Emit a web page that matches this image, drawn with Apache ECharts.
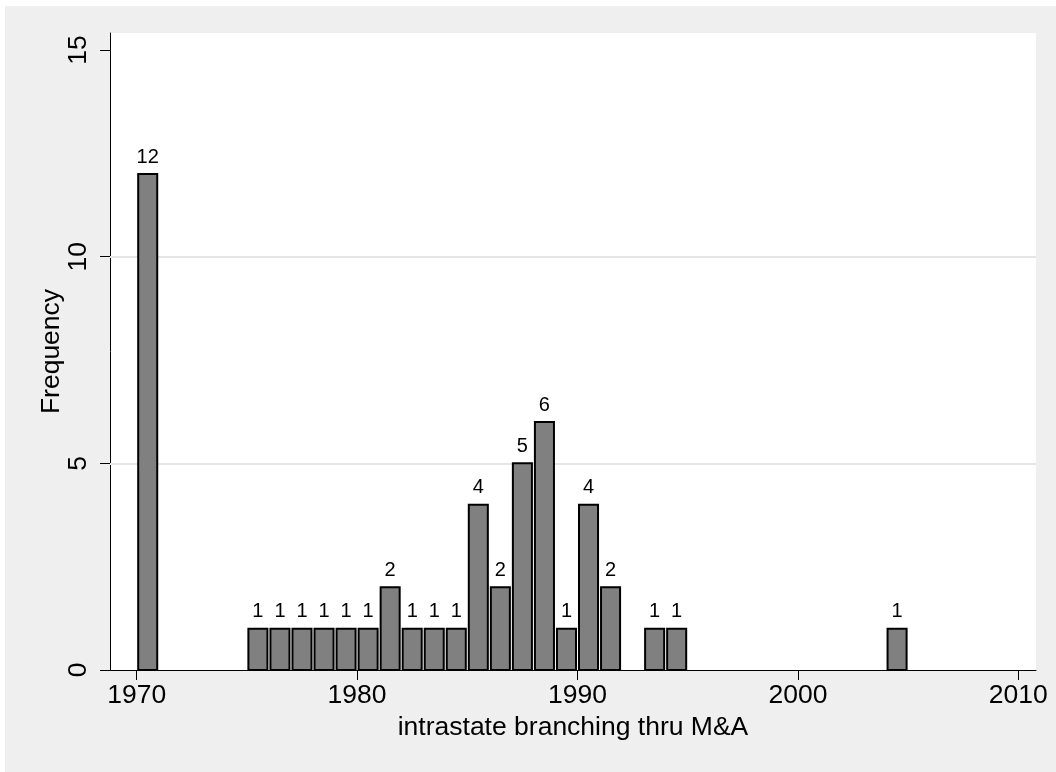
<!DOCTYPE html>
<html>
<head>
<meta charset="utf-8">
<title>intrastate branching thru M&amp;A</title>
<script src="https://cdn.jsdelivr.net/npm/echarts@6/dist/echarts.min.js"></script>
<style>
    html, body { margin: 0; padding: 0; background: #fff; }
    #main { position: absolute; left: 5px; top: 6px; width: 1051px; height: 766px; }
</style>
</head>
<body>
<div id="main"></div>
<script>
// histogram bins (left edge of each 1-year bin) and counts
var binStarts = [1970, 1975, 1976, 1977, 1978, 1979, 1980, 1981, 1982, 1983, 1984,
                 1985, 1986, 1987, 1988, 1989, 1990, 1991, 1993, 1994, 2004];
var counts = [12, 1, 1, 1, 1, 1, 1, 2, 1, 1, 1,
              4, 2, 5, 6, 1, 4, 2, 1, 1, 1];
var binWidth = 1;
var xTicks = [1970, 1980, 1990, 2000, 2010];
var yTicks = [0, 5, 10, 15];
var yGridLines = [5, 10];

var fontName = 'Liberation Sans, Arial, Helvetica, sans-serif';
var axisFont = 26.5;

var dom = document.getElementById("main");
var myChart = echarts.init(dom);

/**
 * draw one histogram bar from [start, 0] to [start + binWidth, count], with its count above
 */
function renderBar(params, api) {
    var start = api.value(0);
    var v = api.value(1);
    var p0 = api.coord([start, 0]);
    var p1 = api.coord([start + binWidth, v]);
    return {
        type: 'group',
        children: [
            {
                type: 'rect',
                shape: {
                    x: p0[0] + 1.5,
                    y: p1[1],
                    width: p1[0] - p0[0] - 3,
                    height: p0[1] - p1[1]
                },
                style: {
                    fill: '#808080',
                    stroke: '#000',
                    lineWidth: 2
                }
            },
            {
                type: 'text',
                x: (p0[0] + p1[0]) / 2,
                y: p1[1] - 7,
                style: {
                    text: String(v),
                    fontSize: 20,
                    fontFamily: fontName,
                    fill: '#000',
                    align: 'center',
                    verticalAlign: 'bottom'
                }
            }
        ]
    };
}

var barData = [];
binStarts.forEach(function (s, i) {
    barData.push([s, counts[i]]);
});

function plainNumber(v) {
    return String(v);
}

var option = {
    backgroundColor: '#efefef',
    animation: false,
    grid: {
        left: 105,
        right: 20,
        top: 27,
        bottom: 102,
        show: true,
        backgroundColor: '#fff',
        borderWidth: 0
    },
    xAxis: {
        type: 'value',
        min: 1968.789,
        max: 2010.803,
        name: 'intrastate branching thru M&A',
        nameLocation: 'middle',
        nameGap: 39,
        nameTextStyle: { fontSize: axisFont, fontFamily: fontName, color: '#000' },
        axisLine: { show: true, onZero: false, lineStyle: { color: '#000', width: 1 } },
        axisTick: { show: true, length: 10, lineStyle: { color: '#000' }, customValues: xTicks },
        axisLabel: { fontSize: axisFont, fontFamily: fontName, color: '#000', margin: 12, customValues: xTicks, formatter: plainNumber },
        splitLine: { show: false }
    },
    yAxis: {
        type: 'value',
        min: 0,
        max: 15.411,
        name: 'Frequency',
        nameLocation: 'middle',
        nameGap: 45,
        nameMoveOverlap: false,
        nameTextStyle: { fontSize: axisFont, fontFamily: fontName, color: '#000' },
        axisLine: { show: true, lineStyle: { color: '#000', width: 1 } },
        axisTick: { show: true, length: 10, lineStyle: { color: '#000' }, customValues: yTicks },
        axisLabel: { fontSize: axisFont, fontFamily: fontName, color: '#000', rotate: 90, margin: 18, customValues: yTicks, formatter: plainNumber },
        splitLine: { show: false }
    },
    series: [
        {
            // light horizontal grid lines
            type: 'line',
            z: 1,
            data: [],
            markLine: {
                silent: true,
                symbol: 'none',
                label: { show: false },
                lineStyle: { color: '#e6e6e6', width: 2, type: 'solid' },
                data: yGridLines.map(function (v) { return { yAxis: v }; })
            }
        },
        {
            type: 'custom',
            z: 5,
            renderItem: renderBar,
            encode: { x: 0, y: 1 },
            data: barData
        }
    ]
};
myChart.setOption(option, true);
</script>
</body>
</html>
